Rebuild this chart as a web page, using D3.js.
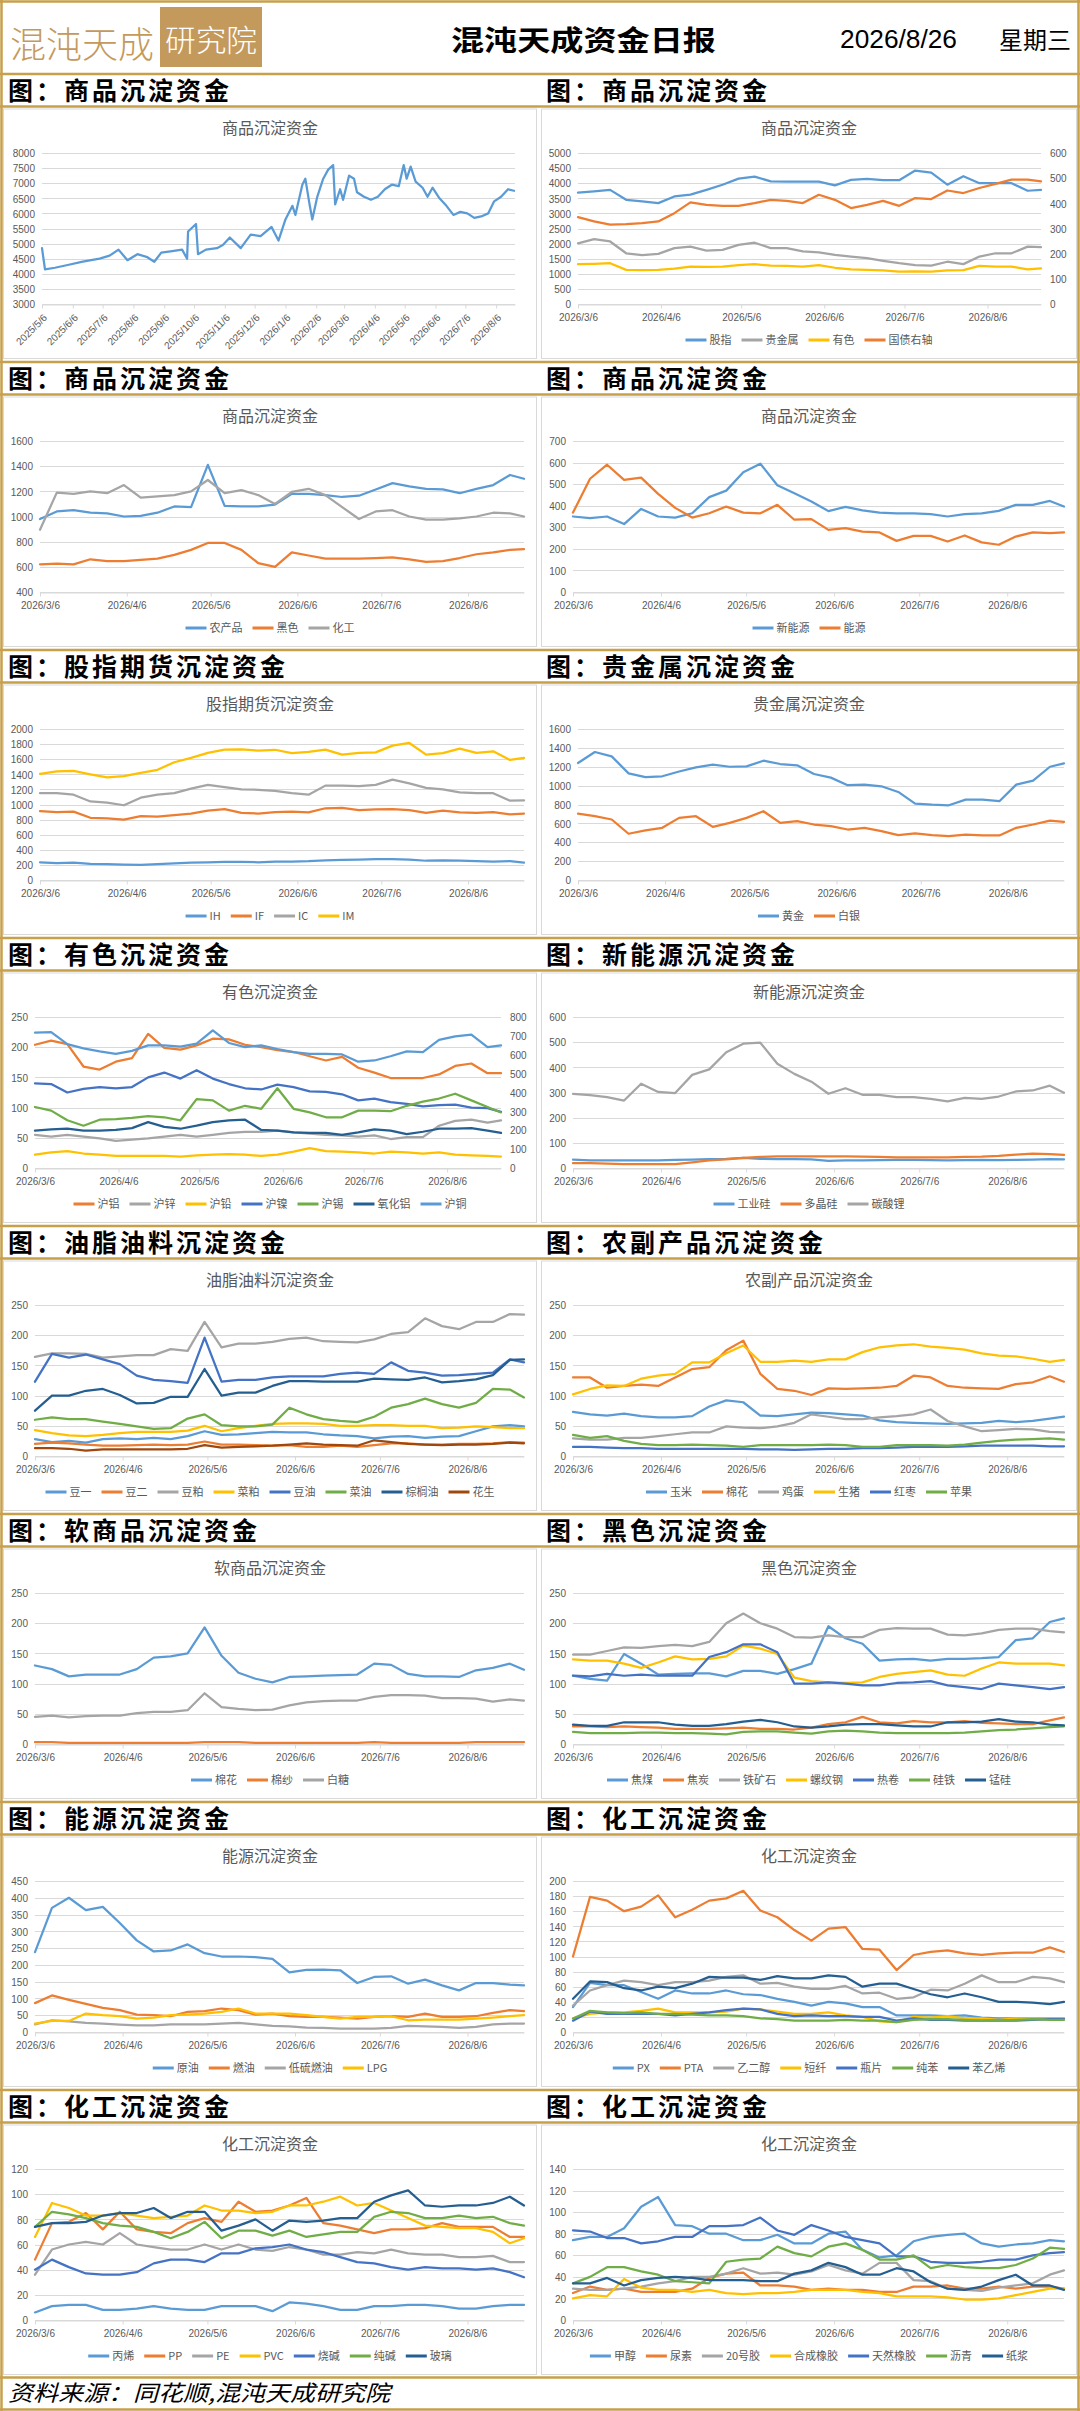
<!DOCTYPE html>
<html>
<head>
<meta charset="utf-8">
<script src="https://cdn.jsdelivr.net/npm/d3@7"></script>
<style>
body { margin: 0; background: #fff; }
svg { display: block; }
</style>
</head>
<body>
<div id="page"></div>
<script>
// ---- data ----
// shared 6-day sample dates for the 2026/3/6 - 2026/8/26 charts
const dates = ['2026-03-06','2026-03-12','2026-03-18','2026-03-24','2026-03-30','2026-04-05','2026-04-11','2026-04-17','2026-04-23','2026-04-29',
  '2026-05-05','2026-05-11','2026-05-17','2026-05-23','2026-05-29','2026-06-04','2026-06-10','2026-06-16','2026-06-22','2026-06-28',
  '2026-07-04','2026-07-10','2026-07-16','2026-07-22','2026-07-28','2026-08-03','2026-08-09','2026-08-15','2026-08-21','2026-08-26']
const monthTicks = ['2026-03-06','2026-04-06','2026-05-06','2026-06-06','2026-07-06','2026-08-06']

// long trend chart
const trendDates = ['2025-05-06','2025-05-09','2025-05-19','2025-06-02','2025-06-16','2025-07-03','2025-07-13','2025-07-22','2025-07-31','2025-08-10',
  '2025-08-20','2025-08-27','2025-09-03','2025-09-14','2025-09-24','2025-09-29','2025-09-30','2025-10-08','2025-10-10','2025-10-18',
  '2025-10-29','2025-11-04','2025-11-11','2025-11-22','2025-12-02','2025-12-12','2025-12-23','2025-12-30','2026-01-06','2026-01-13',
  '2026-01-16','2026-01-23','2026-01-26','2026-01-30','2026-02-02','2026-02-07','2026-02-13','2026-02-18','2026-02-23','2026-02-25',
  '2026-03-02','2026-03-05','2026-03-11','2026-03-16','2026-03-19','2026-03-26','2026-04-02','2026-04-09','2026-04-16','2026-04-23',
  '2026-04-30','2026-05-05','2026-05-08','2026-05-12','2026-05-17','2026-05-24','2026-05-29','2026-06-03','2026-06-10','2026-06-17',
  '2026-06-24','2026-07-01','2026-07-08','2026-07-15','2026-07-22','2026-07-29','2026-08-04','2026-08-11','2026-08-18','2026-08-24']
const trendValues = [4850,4150,4200,4300,4400,4500,4600,4800,4450,4650,
  4550,4400,4700,4750,4800,4500,5400,5650,4650,4800,
  4850,4950,5200,4850,5300,5250,5550,5100,5800,6250,
  5950,6950,7150,6350,5800,6550,7150,7450,7600,6300,
  6800,6450,7250,7150,6700,6550,6450,6550,6800,6950,
  6900,7600,7150,7550,7050,6850,6550,6850,6500,6250,
  5950,6050,6000,5850,5900,6000,6400,6550,6800,6750]
const trendTicks = ['2025-05-06','2025-06-06','2025-07-06','2025-08-06','2025-09-06','2025-10-06','2025-11-06','2025-12-06',
  '2026-01-06','2026-02-06','2026-03-06','2026-04-06','2026-05-06','2026-06-06','2026-07-06','2026-08-06']

// 商品 sectors
const guzhi = [3690,3730,3780,3450,3400,3340,3560,3620,3780,3950,4150,4220,4060,4050,4050,4050,3930,4110,4140,4100,4100,4420,4350,3950,4230,4000,4000,4000,3750,3780]
const guijinshu = [2010,2150,2070,1680,1620,1660,1850,1900,1770,1790,1960,2030,1850,1850,1740,1710,1630,1570,1520,1430,1350,1290,1270,1400,1320,1570,1680,1680,1900,1880]
const youse = [1320,1330,1350,1130,1120,1130,1170,1240,1230,1240,1290,1320,1270,1260,1240,1290,1200,1150,1130,1110,1070,1080,1070,1110,1120,1260,1240,1240,1150,1180]
const guozhai = [345,328,315,317,321,328,361,404,394,390,390,401,414,410,401,434,414,381,394,410,390,421,417,451,441,461,477,494,494,487]

const nongchanpin = [980,1040,1050,1030,1025,1000,1005,1030,1080,1075,1410,1085,1080,1080,1095,1180,1180,1170,1155,1165,1215,1265,1240,1220,1215,1185,1220,1250,1330,1300]
const heise = [620,625,620,660,645,645,655,665,695,735,790,790,735,630,600,715,690,665,665,665,670,675,660,640,645,670,700,715,735,740]
const huagong = [895,1190,1180,1200,1185,1250,1150,1160,1170,1200,1290,1185,1210,1170,1100,1195,1220,1170,1075,980,1040,1050,1000,975,975,985,1000,1030,1025,1000]

const xinnengyuan = [350,342,350,315,385,350,345,365,440,470,555,595,495,458,420,375,395,378,368,365,365,361,350,361,365,376,404,404,422,396]
const nengyuan = [368,525,590,520,530,455,390,345,365,396,368,365,404,335,338,288,296,280,276,237,260,260,234,262,230,219,257,276,273,276]

// 股指期货
const ih = [235,225,230,215,210,205,200,210,220,230,235,240,240,235,245,245,250,260,265,270,275,275,270,255,260,255,250,245,250,230]
const iff = [912,899,905,824,815,800,846,840,860,880,920,940,890,880,900,905,895,950,955,925,935,940,925,890,920,895,890,900,870,880]
const ic = [1150,1150,1130,1040,1025,990,1090,1130,1150,1210,1260,1230,1200,1195,1180,1150,1130,1250,1250,1245,1260,1330,1280,1220,1200,1160,1150,1150,1050,1055]
const im = [1405,1440,1445,1400,1360,1375,1418,1460,1560,1617,1683,1727,1730,1714,1725,1680,1696,1727,1661,1683,1690,1780,1815,1661,1680,1740,1683,1705,1590,1617]

// 贵金属
const huangjin = [1240,1356,1310,1130,1090,1099,1150,1194,1222,1200,1204,1264,1229,1215,1123,1085,1004,1011,993,933,810,799,792,852,852,835,1011,1053,1200,1235]
const baiyin = [704,676,641,490,525,553,658,676,563,606,658,729,606,623,588,570,535,553,518,475,493,475,465,482,472,472,553,588,630,616]

// 有色
const hulv = [204,211,205,168,163,176,182,222,199,196,203,214,213,204,200,195,192,185,178,184,166,158,149,149,149,155,169,173,157,157]
const huxin = [55,52,55,52,49,45,47,49,52,55,52,55,58,60,60,62,59,57,55,54,52,54,48,51,51,70,78,80,75,79]
const huqian = [22,26,28,24,22,20,20,20,20,19,21,22,23,22,20,22,27,33,28,27,26,24,27,26,24,26,22,21,20,19]
const hunie = [140,139,125,131,134,132,134,150,158,148,162,148,139,132,130,138,134,127,126,122,112,115,109,106,102,104,105,100,99,93]
const huxi = [101,95,79,70,80,81,83,86,84,79,114,112,95,103,98,132,98,92,84,84,95,95,94,103,110,115,123,112,101,92]
const yanghualv = [62,64,65,62,62,63,66,76,68,65,70,76,79,80,63,62,59,58,58,55,59,64,62,56,60,65,65,66,62,58]
const hutong = [224,225,205,198,193,189,194,203,203,201,206,228,207,200,203,197,192,189,189,188,176,178,185,193,192,212,218,221,200,203]

// 新能源
const gongyegui = [33,30,30,30,30,30,32,33,35,36,40,36,35,35,34,28,30,30,31,32,32,31,30,31,32,31,32,33,35,34]
const duojinggui = [19,19,17,15,15,15,15,22,30,34,40,44,46,46,46,46,46,45,44,42,42,42,42,44,45,48,53,57,55,52]
const tansuanli = [295,290,282,268,335,302,298,370,392,460,494,498,414,374,343,295,317,291,291,282,282,275,265,279,275,284,304,308,327,299]

// 油脂油料
const douyi = [28,23,25,22,28,29,28,30,28,33,41,35,36,38,40,39,39,36,34,33,29,32,33,30,32,33,41,49,51,49]
const douer = [20,22,21,19,17,17,18,19,18,19,24,19,19,18,17,18,15,15,17,15,18,21,21,19,19,20,20,21,23,22]
const doupo = [164,170,170,169,163,165,167,167,177,174,222,180,186,186,189,194,196,190,189,188,193,202,205,228,215,210,222,222,235,234]
const caipo = [43,38,34,33,35,38,40,40,40,42,50,41,46,50,53,54,54,53,50,50,51,51,50,50,46,47,49,48,46,46]
const douyou = [123,169,163,168,160,152,133,126,124,121,196,123,126,126,130,132,132,132,136,138,136,155,141,138,133,134,136,138,160,155]
const caiyou = [60,64,61,61,57,53,49,45,46,62,69,51,49,49,52,80,69,61,58,56,65,80,86,95,86,80,88,111,110,97]
const zonglvyou = [75,100,100,108,111,101,87,88,98,98,144,100,105,105,116,124,124,123,123,123,128,127,126,130,122,124,127,134,159,160]
const huasheng = [13,13,12,9,11,11,11,11,11,12,18,14,15,16,17,19,21,19,18,17,26,23,20,19,18,19,19,20,22,21]

// 农副产品
const yumi = [73,69,67,70,66,64,64,66,82,92,89,67,66,69,72,71,69,67,59,56,55,54,53,54,55,58,56,58,62,65]
const mianhua = [130,130,113,116,118,116,130,144,147,175,191,136,111,108,101,112,111,112,113,116,133,130,116,113,112,111,119,122,132,123]
const jidan = [29,27,27,30,30,33,36,39,39,49,47,46,49,55,69,65,61,61,64,66,69,77,58,49,41,43,45,44,40,39]
const shengzhu = [102,111,117,116,128,133,136,155,155,170,183,156,156,158,156,160,160,172,180,183,185,181,179,176,170,166,165,161,156,159]
const hongzao = [15,15,14,13,13,12,12,12,12,12,12,11,11,10,11,12,12,13,13,14,15,15,15,16,17,17,17,17,16,16]
const pingguo = [35,30,33,25,20,18,18,19,18,17,15,18,18,18,18,19,18,15,15,18,18,18,17,19,22,25,27,28,29,27]

// 软商品
const ruanMianhua = [130,124,112,115,115,115,124,143,145,150,193,146,118,108,102,111,112,113,114,115,133,131,116,112,112,111,122,126,133,123]
const miansha = [3,3,2,2,2,2,2,2,2,2,3,3,3,2,2,2,2,2,2,2,3,2,2,2,2,2,3,3,3,3]
const baitang = [45,47,44,46,47,47,51,53,53,56,84,61,58,56,57,64,69,71,72,72,78,81,81,80,76,76,75,70,74,72]

// 黑色
const jiaomei = [113,108,105,149,133,115,116,117,117,112,121,121,116,124,133,195,175,166,138,140,141,138,141,141,142,144,172,175,202,208]
const jiaotan = [29,29,28,29,28,27,25,25,25,26,27,25,25,24,27,33,36,45,36,34,38,36,36,38,35,34,33,33,39,44]
const tiekuang = [148,148,154,160,159,162,164,162,169,200,216,200,191,177,176,180,177,177,189,192,191,191,181,180,183,189,191,191,187,185]
const luowen = [140,138,138,133,126,135,145,140,141,145,163,158,149,110,104,102,101,102,111,116,119,122,115,113,125,135,133,133,133,130]
const rejuan = [113,112,116,113,115,113,113,113,144,152,165,165,152,100,100,102,100,97,97,101,102,104,97,94,91,100,97,94,91,94]
const guitie = [20,18,18,18,19,19,18,18,17,16,20,21,21,19,17,21,22,21,19,18,18,18,18,19,21,23,24,26,28,29]
const menggui = [32,30,30,36,36,36,32,30,30,33,37,40,36,29,27,29,32,33,33,31,29,29,36,36,37,41,37,36,32,31]

// 能源
const yuanyou = [238,370,400,363,373,325,273,240,243,261,235,225,225,223,218,178,185,186,184,146,164,166,144,156,139,124,146,146,141,139]
const ranyou = [86,109,96,84,72,65,52,50,47,60,62,70,65,52,55,47,45,45,43,40,45,47,45,55,45,45,47,57,65,62]
const diliu = [23,35,32,27,25,22,20,20,23,23,23,25,27,23,18,17,13,12,10,10,10,12,18,17,15,12,15,23,25,25]
const lpg = [25,33,33,55,50,47,40,43,50,52,55,60,70,55,55,55,50,45,40,45,45,47,35,37,37,37,40,43,47,50]

// 化工 (聚酯)
const px = [33,65,62,62,53,44,55,51,51,55,50,49,44,40,35,40,38,33,33,22,22,22,21,22,19,18,18,18,18,18]
const pta = [100,179,174,160,166,181,152,162,174,177,187,161,152,135,121,137,139,110,109,82,102,106,108,104,102,104,105,105,112,106]
const yierchun = [35,55,62,68,66,62,66,66,68,73,75,64,65,60,57,57,61,51,52,44,46,56,55,64,75,66,66,73,71,66]
const duanxian = [18,24,26,26,28,31,26,26,26,27,31,30,27,24,24,26,22,20,14,13,20,19,21,18,18,16,18,18,18,18]
const pingpian = [15,27,24,24,24,24,22,24,26,29,31,30,24,21,22,21,21,20,20,15,18,16,16,15,15,15,15,16,17,17]
const chunben = [18,28,26,25,26,24,24,23,22,22,21,18,17,15,15,15,16,15,15,13,16,17,17,16,15,15,16,17,16,16]
const benyixi = [44,67,66,58,55,60,58,64,73,72,72,69,74,71,71,75,73,60,64,64,57,50,46,51,46,40,40,39,37,40]

// 化工 (塑化建材)
const bingxi = [6,11,12,12,8,8,9,11,9,8,8,11,11,11,7,14,13,11,8,8,11,11,12,12,11,9,9,11,12,12]
const pp = [48,77,78,85,72,86,72,70,69,77,81,78,94,86,87,91,97,77,75,72,69,72,72,73,77,74,74,74,66,66]
const pe = [36,56,60,62,60,69,60,58,56,56,60,56,60,56,55,58,56,52,52,54,53,56,53,52,52,50,50,51,46,46]
const pvc = [66,93,89,83,83,85,83,81,82,83,91,87,87,85,86,91,91,94,98,91,93,87,81,75,74,73,73,70,61,65]
const shaojian = [40,48,42,37,36,36,38,45,48,48,46,53,53,57,58,60,56,54,50,46,45,42,40,42,41,41,40,41,38,34]
const chunjian = [74,86,84,81,77,75,74,70,65,70,78,65,71,71,67,71,66,68,70,70,82,86,85,81,81,83,81,82,77,75]
const boli = [74,77,77,78,83,85,85,89,81,86,86,71,75,80,71,79,78,79,81,81,94,99,103,91,90,91,91,93,98,91]

// 化工 (其他)
const jiachun = [74,77,77,85,105,114,88,87,80,80,74,74,79,71,71,80,82,65,58,60,73,77,79,80,71,68,70,71,74,73]
const niaosu = [25,31,28,29,26,26,26,29,39,43,44,32,32,31,28,29,28,28,26,26,31,31,32,29,29,31,29,31,31,29]
const hao20 = [29,28,28,29,31,34,36,40,40,43,48,43,44,42,45,51,46,43,53,53,37,36,29,28,27,30,32,34,42,46]
const hecheng = [20,23,22,38,30,28,28,26,28,25,24,25,25,26,28,28,28,26,25,22,22,22,21,19,19,20,23,26,29,29]
const tianran = [83,82,76,76,71,73,77,77,87,87,88,95,83,79,88,83,77,74,71,59,59,54,53,53,54,56,56,60,62,63]
const liqing = [34,40,49,49,45,42,36,35,34,54,56,57,68,62,59,68,71,65,56,56,60,48,51,49,48,48,51,57,67,66]
const zhijiang = [34,34,39,32,37,39,40,39,37,37,37,36,36,43,46,53,49,42,42,48,45,35,29,28,31,37,42,32,32,28]

// ---- styles ----
const C = { blue: '#5B9BD5', orange: '#ED7D31', gray: '#A5A5A5', yellow: '#FFC000',
  dblue: '#4472C4', green: '#70AD47', navy: '#255E91', brown: '#9E480E' }
const GOLD = '#C7A14A'
const CJK = "'Noto Sans CJK SC', 'Noto Sans', sans-serif"
const NUM = "'Liberation Sans', Arial, sans-serif"
const TXT = '#595959'

const parse = d3.timeParse('%Y-%m-%d')
const fmt = d => d.getFullYear() + '/' + (d.getMonth() + 1) + '/' + d.getDate()

const charts = [
  { band: '图：商品沉淀资金', title: '商品沉淀资金', trend: true, y: [3000, 8000, 500],
    series: [['商品', trendValues, C.blue]] },
  { band: '图：商品沉淀资金', title: '商品沉淀资金', y: [0, 5000, 500], y2: [0, 600, 100],
    series: [['股指', guzhi, C.blue], ['贵金属', guijinshu, C.gray], ['有色', youse, C.yellow], ['国债右轴', guozhai, C.orange, true]] },
  { band: '图：商品沉淀资金', title: '商品沉淀资金', y: [400, 1600, 200],
    series: [['农产品', nongchanpin, C.blue], ['黑色', heise, C.orange], ['化工', huagong, C.gray]] },
  { band: '图：商品沉淀资金', title: '商品沉淀资金', y: [0, 700, 100],
    series: [['新能源', xinnengyuan, C.blue], ['能源', nengyuan, C.orange]] },
  { band: '图：股指期货沉淀资金', title: '股指期货沉淀资金', y: [0, 2000, 200],
    series: [['IH', ih, C.blue], ['IF', iff, C.orange], ['IC', ic, C.gray], ['IM', im, C.yellow]] },
  { band: '图：贵金属沉淀资金', title: '贵金属沉淀资金', y: [0, 1600, 200],
    series: [['黄金', huangjin, C.blue], ['白银', baiyin, C.orange]] },
  { band: '图：有色沉淀资金', title: '有色沉淀资金', y: [0, 250, 50], y2: [0, 800, 100],
    series: [['沪铝', hulv, C.orange], ['沪锌', huxin, C.gray], ['沪铅', huqian, C.yellow], ['沪镍', hunie, C.dblue],
      ['沪锡', huxi, C.green], ['氧化铝', yanghualv, C.navy], ['沪铜', hutong, C.blue]] },
  { band: '图：新能源沉淀资金', title: '新能源沉淀资金', y: [0, 600, 100],
    series: [['工业硅', gongyegui, C.blue], ['多晶硅', duojinggui, C.orange], ['碳酸锂', tansuanli, C.gray]] },
  { band: '图：油脂油料沉淀资金', title: '油脂油料沉淀资金', y: [0, 250, 50],
    series: [['豆一', douyi, C.blue], ['豆二', douer, C.orange], ['豆粕', doupo, C.gray], ['菜粕', caipo, C.yellow],
      ['豆油', douyou, C.dblue], ['菜油', caiyou, C.green], ['棕榈油', zonglvyou, C.navy], ['花生', huasheng, C.brown]] },
  { band: '图：农副产品沉淀资金', title: '农副产品沉淀资金', y: [0, 250, 50],
    series: [['玉米', yumi, C.blue], ['棉花', mianhua, C.orange], ['鸡蛋', jidan, C.gray], ['生猪', shengzhu, C.yellow],
      ['红枣', hongzao, C.dblue], ['苹果', pingguo, C.green]] },
  { band: '图：软商品沉淀资金', title: '软商品沉淀资金', y: [0, 250, 50],
    series: [['棉花', ruanMianhua, C.blue], ['棉纱', miansha, C.orange], ['白糖', baitang, C.gray]] },
  { band: '图：黑色沉淀资金', title: '黑色沉淀资金', y: [0, 250, 50],
    series: [['焦煤', jiaomei, C.blue], ['焦炭', jiaotan, C.orange], ['铁矿石', tiekuang, C.gray], ['螺纹钢', luowen, C.yellow],
      ['热卷', rejuan, C.dblue], ['硅铁', guitie, C.green], ['锰硅', menggui, C.navy]] },
  { band: '图：能源沉淀资金', title: '能源沉淀资金', y: [0, 450, 50],
    series: [['原油', yuanyou, C.blue], ['燃油', ranyou, C.orange], ['低硫燃油', diliu, C.gray], ['LPG', lpg, C.yellow]] },
  { band: '图：化工沉淀资金', title: '化工沉淀资金', y: [0, 200, 20],
    series: [['PX', px, C.blue], ['PTA', pta, C.orange], ['乙二醇', yierchun, C.gray], ['短纤', duanxian, C.yellow],
      ['瓶片', pingpian, C.dblue], ['纯苯', chunben, C.green], ['苯乙烯', benyixi, C.navy]] },
  { band: '图：化工沉淀资金', title: '化工沉淀资金', y: [0, 120, 20],
    series: [['丙烯', bingxi, C.blue], ['PP', pp, C.orange], ['PE', pe, C.gray], ['PVC', pvc, C.yellow],
      ['烧碱', shaojian, C.dblue], ['纯碱', chunjian, C.green], ['玻璃', boli, C.navy]] },
  { band: '图：化工沉淀资金', title: '化工沉淀资金', y: [0, 140, 20],
    series: [['甲醇', jiachun, C.blue], ['尿素', niaosu, C.orange], ['20号胶', hao20, C.gray], ['合成橡胶', hecheng, C.yellow],
      ['天然橡胶', tianran, C.dblue], ['沥青', liqing, C.green], ['纸浆', zhijiang, C.navy]] }
]

const W = 1080, H = 2411
const svg = d3.select('#page').append('svg').attr('width', W).attr('height', H)
svg.append('rect').attr('width', W).attr('height', H).attr('fill', '#fff')

// ---- header ----
const logo = svg.append('g')
logo.append('text')
  .attr('x', 10).attr('y', 58)
  .attr('font-family', CJK).attr('font-size', 36).attr('font-weight', 300)
  .attr('fill', '#C49A5C').attr('textLength', 144).attr('lengthAdjust', 'spacingAndGlyphs')
  .text('混沌天成')
logo.append('rect').attr('x', 160).attr('y', 7).attr('width', 102).attr('height', 60).attr('fill', '#C49A5C')
logo.append('text')
  .attr('x', 165).attr('y', 51)
  .attr('font-family', CJK).attr('font-size', 30).attr('font-weight', 300)
  .attr('fill', '#fff').attr('textLength', 92).attr('lengthAdjust', 'spacingAndGlyphs')
  .text('研究院')

svg.append('text').attr('x', 451).attr('y', 51)
  .attr('font-family', CJK).attr('font-size', 28).attr('font-weight', 700)
  .attr('textLength', 265).attr('lengthAdjust', 'spacingAndGlyphs')
  .text('混沌天成资金日报')
svg.append('text').attr('x', 840).attr('y', 48)
  .attr('font-family', NUM).attr('font-size', 25)
  .attr('textLength', 117).attr('lengthAdjust', 'spacingAndGlyphs')
  .text('2026/8/26')
svg.append('text').attr('x', 999).attr('y', 49)
  .attr('font-family', CJK).attr('font-size', 24)
  .attr('textLength', 72).attr('lengthAdjust', 'spacingAndGlyphs')
  .text('星期三')

// ---- charts ----
function drawChart(cfg, i) {
  const row = Math.floor(i / 2), col = i % 2
  const T = 74 + 288 * row
  const P = T + 34
  const pxl = col ? 541 : 3
  const pw = col ? 536 : 534

  svg.append('text').attr('x', pxl + 5).attr('y', T + 26)
    .attr('font-family', CJK).attr('font-size', 25).attr('font-weight', 700)
    .attr('letter-spacing', 3).attr('fill', '#000')
    .text(cfg.band)

  const g = svg.append('g').attr('transform', `translate(${pxl},${P})`)
  g.append('rect').attr('x', 0.5).attr('y', 1).attr('width', pw - 1).attr('height', 249.5)
    .attr('fill', '#fff').attr('stroke', '#d9d9d9')

  g.append('text').attr('x', pw / 2).attr('y', 26).attr('text-anchor', 'middle')
    .attr('font-family', CJK).attr('font-size', 16).attr('fill', TXT)
    .text(cfg.title)

  const [y0, y1, ys] = cfg.y
  const digits = String(y1).length
  const left = cfg.trend ? 39 : (digits >= 4 ? 37 : 32)
  const right = cfg.y2 ? pw - 36 : (cfg.trend ? pw - 22 : pw - 13)
  const top = 45, bottom = 196

  const xd = cfg.trend ? trendDates.map(parse) : dates.map(parse)
  const x = d3.scaleTime()
    .domain(cfg.trend ? [parse('2025-05-06'), parse('2026-08-25')] : [parse('2026-03-06'), parse('2026-08-26')])
    .range([left, right])
  const y = d3.scaleLinear().domain([y0, y1]).range([bottom, top])
  const yTicks = d3.range(y0, y1 + ys / 2, ys)

  // gridlines
  g.append('g').selectAll('line').data(yTicks).join('line')
    .attr('x1', left).attr('x2', right)
    .attr('y1', d => Math.round(y(d)) + 0.5).attr('y2', d => Math.round(y(d)) + 0.5)
    .attr('stroke', '#d9d9d9').attr('stroke-width', 1)

  // y axis labels
  const ya = g.append('g').attr('transform', `translate(${left},0.5)`)
    .call(d3.axisLeft(y).tickValues(yTicks).tickSize(0).tickPadding(7).tickFormat(d3.format('d')))
  ya.select('.domain').remove()
  ya.attr('font-family', NUM).attr('font-size', 10)
  ya.selectAll('text').attr('fill', TXT)

  let y2 = null
  if (cfg.y2) {
    const [a, b, s] = cfg.y2
    y2 = d3.scaleLinear().domain([a, b]).range([bottom, top])
    const ya2 = g.append('g').attr('transform', `translate(${right},0.5)`)
      .call(d3.axisRight(y2).tickValues(d3.range(a, b + s / 2, s)).tickSize(0).tickPadding(9).tickFormat(d3.format('d')))
    ya2.select('.domain').remove()
    ya2.attr('font-family', NUM).attr('font-size', 10)
    ya2.selectAll('text').attr('fill', TXT)
  }

  // x axis
  const ticks = (cfg.trend ? trendTicks : monthTicks).map(parse)
  const xa = g.append('g').attr('transform', `translate(0,${bottom + 0.5})`)
    .call(d3.axisBottom(x).tickValues(ticks).tickFormat(fmt).tickSize(4).tickPadding(5).tickSizeOuter(0))
  xa.attr('font-family', NUM).attr('font-size', 10)
  xa.select('.domain').attr('stroke', '#d9d9d9')
  xa.selectAll('.tick line').attr('stroke', '#d9d9d9')
  xa.selectAll('text').attr('fill', TXT)
  if (cfg.trend) {
    xa.selectAll('text')
      .attr('text-anchor', 'end')
      .attr('x', -6).attr('y', 10).attr('dy', '0.35em')
      .attr('transform', 'rotate(-45)')
  }

  // series
  cfg.series.forEach(s => {
    const ys2 = s[3] ? y2 : y
    const line = d3.line().x((d, k) => x(xd[k])).y(d => ys2(d))
    g.append('path').datum(s[1])
      .attr('d', line)
      .attr('fill', 'none').attr('stroke', s[2]).attr('stroke-width', 2.25)
      .attr('stroke-linejoin', 'round').attr('stroke-linecap', 'round')
  })

  // legend
  if (!cfg.trend) {
    const lg = g.append('g')
    let cx = 0
    cfg.series.forEach(s => {
      const it = lg.append('g').attr('transform', `translate(${cx},0)`)
      it.append('line').attr('x1', 0).attr('x2', 21).attr('y1', 0).attr('y2', 0)
        .attr('stroke', s[2]).attr('stroke-width', 3)
      const t = it.append('text').attr('x', 24).attr('y', 4)
        .attr('font-family', CJK).attr('font-size', 11).attr('fill', TXT).text(s[0])
      cx += 24 + t.node().getComputedTextLength() + 10
    })
    const tw = cx - 10
    lg.attr('transform', `translate(${(pw - tw) / 2},232)`)
  }
}

charts.forEach(drawChart)

// ---- frame lines ----
const frame = svg.append('g').attr('stroke', GOLD).attr('stroke-width', 2.5)
frame.append('line').attr('x1', 0).attr('x2', W).attr('y1', 1.5).attr('y2', 1.5)
d3.range(8).forEach(k => {
  const T = 74 + 288 * k
  frame.append('line').attr('x1', 0).attr('x2', W).attr('y1', T).attr('y2', T)
  frame.append('line').attr('x1', 0).attr('x2', W).attr('y1', T + 32.5).attr('y2', T + 32.5)
})
frame.append('line').attr('x1', 0).attr('x2', W).attr('y1', 2377.5).attr('y2', 2377.5)
frame.append('line').attr('x1', 0).attr('x2', W).attr('y1', 2409.5).attr('y2', 2409.5)
frame.append('line').attr('x1', 1.5).attr('x2', 1.5).attr('y1', 0).attr('y2', H)
frame.append('line').attr('x1', 1078.5).attr('x2', 1078.5).attr('y1', 0).attr('y2', H)

// ---- source ----
svg.append('text').attr('x', 8).attr('y', 2401)
  .attr('font-family', CJK).attr('font-size', 22).attr('font-style', 'italic')
  .attr('textLength', 382).attr('lengthAdjust', 'spacingAndGlyphs')
  .text('资料来源：同花顺,混沌天成研究院')
</script>
</body>
</html>
